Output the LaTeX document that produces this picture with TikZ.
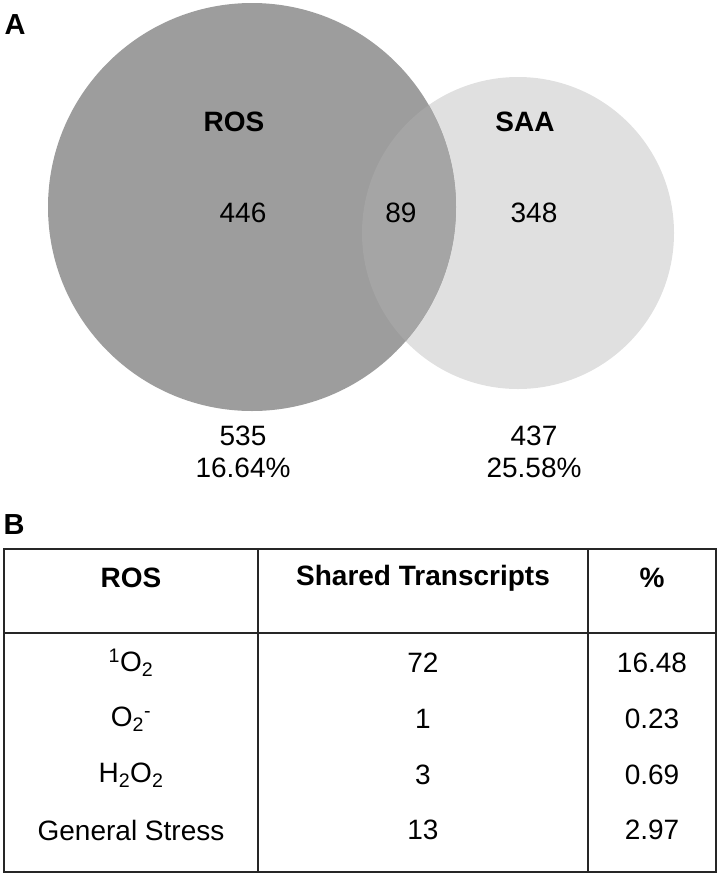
\documentclass[tikz,border=0pt]{standalone}
\usepackage{fontspec}
\setmainfont{Liberation Sans}
\definecolor{rosgray}{HTML}{9D9D9D}
\definecolor{saagray}{HTML}{E0E0E0}
\definecolor{overgray}{HTML}{A5A5A5}
\tikzset{
  txt/.style={inner sep=0pt, font=\fontsize{28}{33}\selectfont},
  bold/.style={inner sep=0pt, font=\fontsize{28}{33}\selectfont\bfseries},
  panel/.style={inner sep=0pt, font=\fontsize{29}{34}\selectfont\bfseries},
  tab/.style={line width=1.6pt, black!85}
}
\begin{document}
\begin{tikzpicture}[x=1pt,y=-1pt]
\useasboundingbox (0,0) rectangle (717,876);
% Venn circles
\fill[saagray] (518,233) circle [radius=156pt];
\fill[rosgray] (252,207) circle [radius=204pt];
\begin{scope}
  \clip (518,233) circle [radius=156pt];
  \fill[overgray] (252,207) circle [radius=204pt];
\end{scope}
\node[panel] (A) at (15,25) {A};
\node[bold] (rosl) at (234,122) {ROS};
\node[bold] (saal) at (525,122) {SAA};
\node[txt] (n446) at (243,213) {446};
\node[txt] (n89) at (401,213) {89};
\node[txt] (n348) at (534,213) {348};
\node[txt] (n535) at (243,436) {535};
\node[txt] (p535) at (243,468) {16.64\%};
\node[txt] (n437) at (534,436) {437};
\node[txt] (p437) at (534,468) {25.58\%};
% Panel B
\node[panel] (B) at (14,525) {B};
\draw[tab] (4,549) rectangle (716,872);
\draw[tab] (4,633) -- (716,633);
\draw[tab] (258,549) -- (258,872);
\draw[tab] (588,549) -- (588,872);
\node[bold] (h1) at (131,578) {ROS};
\node[bold] (h2) at (423,578) {Shared Transcripts};
\node[bold] (h3) at (652,578) {\%};
\node[txt] (r1a) at (131,663) {\textsuperscript{1}O\textsubscript{2}};
\node[txt] (r1b) at (423,663) {72};
\node[txt] (r1c) at (652,663) {16.48};
\node[txt] (r2a) at (131,719) {O\textsubscript{2}\textsuperscript{-}};
\node[txt] (r2b) at (423,719) {1};
\node[txt] (r2c) at (652,719) {0.23};
\node[txt] (r3a) at (131,775) {H\textsubscript{2}O\textsubscript{2}};
\node[txt] (r3b) at (423,775) {3};
\node[txt] (r3c) at (652,775) {0.69};
\node[txt] (r4a) at (131,830) {General Stress};
\node[txt] (r4b) at (423,830) {13};
\node[txt] (r4c) at (652,830) {2.97};
\end{tikzpicture}
\end{document}
